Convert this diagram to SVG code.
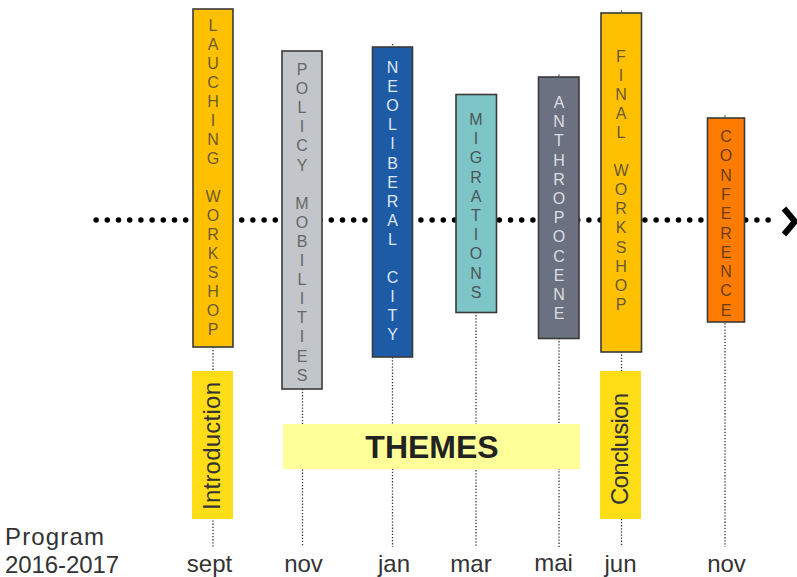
<svg xmlns="http://www.w3.org/2000/svg" width="797" height="577" viewBox="0 0 797 577">
<style>
.bar{stroke:#3a3a3a;stroke-width:1.6}
.lt{font-family:"Liberation Sans",Arial,sans-serif;font-size:16px;text-anchor:middle}
.vd{stroke:#333;stroke-width:1.3;stroke-dasharray:1.3 1.8;fill:none}
.lbl{font-family:"Liberation Sans",Arial,sans-serif;font-size:24px;fill:#333}
.mo{text-anchor:middle}
</style>
<rect width="797" height="577" fill="#fff"/>
<g id="connectors">
<line class="vd" x1="213" y1="9" x2="213" y2="547"/>
<line class="vd" x1="302.5" y1="51" x2="302.5" y2="547"/>
<line class="vd" x1="392.5" y1="44" x2="392.5" y2="547"/>
<line class="vd" x1="476" y1="95" x2="476" y2="547"/>
<line class="vd" x1="559" y1="74.5" x2="559" y2="547"/>
<line class="vd" x1="621.5" y1="10.5" x2="621.5" y2="547"/>
<line class="vd" x1="725" y1="115.5" x2="725" y2="547"/>
<line x1="96.1" y1="220" x2="772" y2="220" stroke="#000" stroke-width="5.5" stroke-linecap="round" stroke-dasharray="0 11.2"/>
<polyline points="784,208.5 795,221.5 784,234.5" fill="none" stroke="#000" stroke-width="6"/>
</g>
<g id="n-launching">
<rect class="bar" x="193" y="9" width="40" height="338" fill="#FFC000"/>
<text class="lt" fill="#6a5a30"><tspan x="213" y="31">L</tspan><tspan x="213" dy="19">A</tspan><tspan x="213" dy="19">U</tspan><tspan x="213" dy="19">C</tspan><tspan x="213" dy="19">H</tspan><tspan x="213" dy="19">I</tspan><tspan x="213" dy="19">N</tspan><tspan x="213" dy="19">G</tspan><tspan x="213" dy="38">W</tspan><tspan x="213" dy="19">O</tspan><tspan x="213" dy="19">R</tspan><tspan x="213" dy="19">K</tspan><tspan x="213" dy="19">S</tspan><tspan x="213" dy="19">H</tspan><tspan x="213" dy="19">O</tspan><tspan x="213" dy="19">P</tspan></text>
</g>
<g id="n-policy">
<rect class="bar" x="282" y="51" width="40" height="338" fill="#C2C6CA"/>
<text class="lt" fill="#666"><tspan x="302" y="75">P</tspan><tspan x="302" dy="19.1">O</tspan><tspan x="302" dy="19.1">L</tspan><tspan x="302" dy="19.1">I</tspan><tspan x="302" dy="19.1">C</tspan><tspan x="302" dy="19.1">Y</tspan><tspan x="302" dy="38.2">M</tspan><tspan x="302" dy="19.1">O</tspan><tspan x="302" dy="19.1">B</tspan><tspan x="302" dy="19.1">I</tspan><tspan x="302" dy="19.1">L</tspan><tspan x="302" dy="19.1">I</tspan><tspan x="302" dy="19.1">T</tspan><tspan x="302" dy="19.1">I</tspan><tspan x="302" dy="19.1">E</tspan><tspan x="302" dy="19.1">S</tspan></text>
</g>
<g id="n-neoliberal">
<rect class="bar" x="372.5" y="47" width="40" height="310" fill="#1E5BA6"/>
<text class="lt" fill="#dde6f3"><tspan x="392.5" y="73">N</tspan><tspan x="392.5" dy="19.1">E</tspan><tspan x="392.5" dy="19.1">O</tspan><tspan x="392.5" dy="19.1">L</tspan><tspan x="392.5" dy="19.1">I</tspan><tspan x="392.5" dy="19.1">B</tspan><tspan x="392.5" dy="19.1">E</tspan><tspan x="392.5" dy="19.1">R</tspan><tspan x="392.5" dy="19.1">A</tspan><tspan x="392.5" dy="19.1">L</tspan><tspan x="392.5" dy="38.2">C</tspan><tspan x="392.5" dy="19.1">I</tspan><tspan x="392.5" dy="19.1">T</tspan><tspan x="392.5" dy="19.1">Y</tspan></text>
</g>
<g id="n-migrations">
<rect class="bar" x="456" y="94.5" width="40.5" height="218" fill="#7EC5C8"/>
<text class="lt" fill="#4a5556"><tspan x="476" y="125">M</tspan><tspan x="476" dy="19.2">I</tspan><tspan x="476" dy="19.2">G</tspan><tspan x="476" dy="19.2">R</tspan><tspan x="476" dy="19.2">A</tspan><tspan x="476" dy="19.2">T</tspan><tspan x="476" dy="19.2">I</tspan><tspan x="476" dy="19.2">O</tspan><tspan x="476" dy="19.2">N</tspan><tspan x="476" dy="19.2">S</tspan></text>
</g>
<g id="n-anthropocene">
<rect class="bar" x="538.5" y="77" width="40.5" height="261.5" fill="#6B7180"/>
<text class="lt" fill="#dcdde0"><tspan x="559" y="108">A</tspan><tspan x="559" dy="19.2">N</tspan><tspan x="559" dy="19.2">T</tspan><tspan x="559" dy="19.2">H</tspan><tspan x="559" dy="19.2">R</tspan><tspan x="559" dy="19.2">O</tspan><tspan x="559" dy="19.2">P</tspan><tspan x="559" dy="19.2">O</tspan><tspan x="559" dy="19.2">C</tspan><tspan x="559" dy="19.2">E</tspan><tspan x="559" dy="19.2">N</tspan><tspan x="559" dy="19.2">E</tspan></text>
</g>
<g id="n-final">
<rect class="bar" x="601" y="13" width="40.5" height="339" fill="#FFC000"/>
<text class="lt" fill="#6a5a30"><tspan x="621" y="61.5">F</tspan><tspan x="621" dy="19.1">I</tspan><tspan x="621" dy="19.1">N</tspan><tspan x="621" dy="19.1">A</tspan><tspan x="621" dy="19.1">L</tspan><tspan x="621" dy="38.2">W</tspan><tspan x="621" dy="19.1">O</tspan><tspan x="621" dy="19.1">R</tspan><tspan x="621" dy="19.1">K</tspan><tspan x="621" dy="19.1">S</tspan><tspan x="621" dy="19.1">H</tspan><tspan x="621" dy="19.1">O</tspan><tspan x="621" dy="19.1">P</tspan></text>
</g>
<g id="n-conference">
<rect class="bar" x="707.5" y="118" width="37" height="204" fill="#FF7C00"/>
<text class="lt" fill="#6a3e10"><tspan x="726" y="142">C</tspan><tspan x="726" dy="19.3">O</tspan><tspan x="726" dy="19.3">N</tspan><tspan x="726" dy="19.3">F</tspan><tspan x="726" dy="19.3">E</tspan><tspan x="726" dy="19.3">R</tspan><tspan x="726" dy="19.3">E</tspan><tspan x="726" dy="19.3">N</tspan><tspan x="726" dy="19.3">C</tspan><tspan x="726" dy="19.3">E</tspan></text>
</g>
<g id="n-introduction">
<rect x="192" y="371" width="41" height="148" fill="#FFDE17"/>
<text class="lbl" transform="translate(220,446) rotate(-90)" text-anchor="middle" font-size="23" fill="#222" textLength="128">Introduction</text>
</g>
<g id="n-conclusion">
<rect x="600" y="371" width="41" height="148" fill="#FFDE17"/>
<text class="lbl" transform="translate(628,449) rotate(-90)" text-anchor="middle" font-size="23" fill="#222" textLength="112">Conclusion</text>
</g>
<g id="n-themes">
<rect x="283" y="424" width="297" height="45" fill="#FFFF99"/>
<text x="432" y="458" text-anchor="middle" font-family="'Liberation Sans',Arial,sans-serif" font-weight="bold" font-size="32" fill="#222">THEMES</text>
</g>
<g id="labels">
<text class="lbl" x="5" y="545" textLength="99">Program</text>
<text class="lbl" x="5" y="572.5" textLength="114">2016-2017</text>
<text class="lbl mo" x="209.5" y="572">sept</text>
<text class="lbl mo" x="303.5" y="572">nov</text>
<text class="lbl mo" x="394" y="572">jan</text>
<text class="lbl mo" x="471" y="572">mar</text>
<text class="lbl mo" x="553.5" y="571">mai</text>
<text class="lbl mo" x="620.5" y="572">jun</text>
<text class="lbl mo" x="726.5" y="572">nov</text>
</g>
</svg>
